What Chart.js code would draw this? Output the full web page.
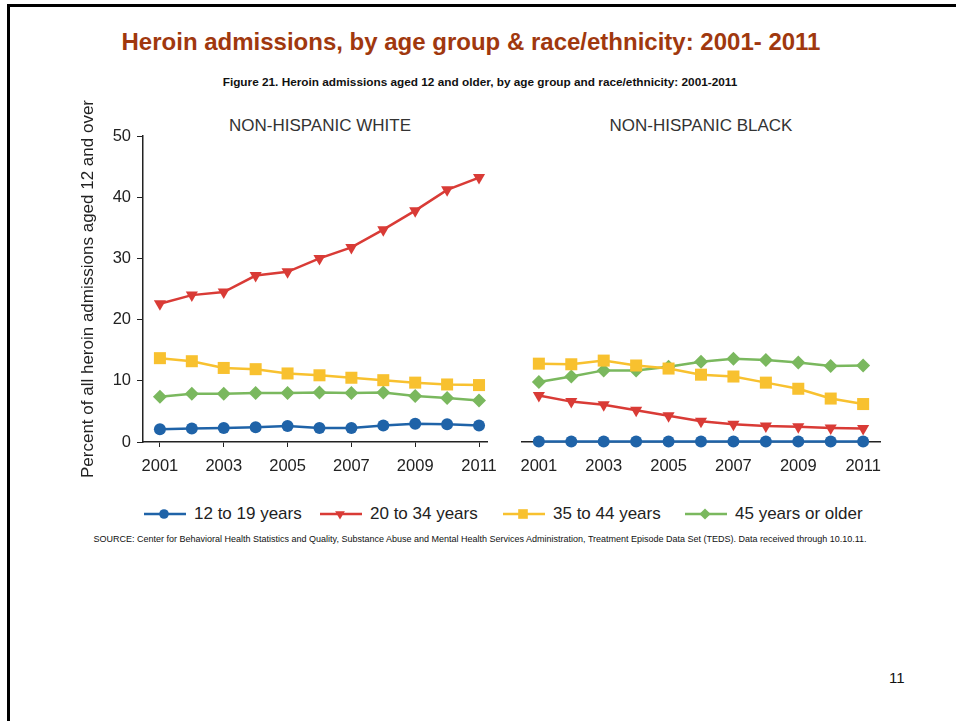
<!DOCTYPE html>
<html>
<head>
<meta charset="utf-8">
<script src="https://cdn.jsdelivr.net/npm/chart.js@4.4.1/dist/chart.umd.min.js"></script>
<style>
  body { margin: 0; background: #fff; font-family: "Liberation Sans", Arial, sans-serif; }
  #page { position: relative; width: 956px; height: 721px; overflow: hidden; }
  .frame { position: absolute; left: 7px; top: 4px; right: -10px; bottom: -10px; border-top: 3px solid #000; border-left: 3px solid #000; }
  .abs { position: absolute; white-space: nowrap; }
  #title { left: 0; width: 942px; top: 28px; text-align: center; font-weight: bold; font-size: 24px; color: #a0380e; }
  #subtitle { left: 0; width: 960px; top: 75px; text-align: center; font-weight: bold; font-size: 11.8px; color: #111; font-family: "Liberation Sans Narrow", "Liberation Sans", Arial, sans-serif; }
  .panelTitle { top: 116px; font-size: 17px; color: #333; text-align: center; width: 300px; }
  #source { left: 0; width: 960px; top: 534px; text-align: center; font-size: 9px; color: #111; font-family: "Liberation Sans Narrow", "Liberation Sans", Arial, sans-serif; }
  #pagenum { left: 889px; top: 669px; font-size: 15px; color: #111; }
  .chartBox { position: absolute; top: 100px; width: 440px; height: 400px; }
  #legend { position: absolute; top: 502px; left: 0; width: 956px; height: 24px; }
  .leg { position: absolute; top: 0; height: 24px; display: flex; align-items: center; font-size: 17px; color: #222; }
  .leg canvas { margin-right: 8px; }
</style>
</head>
<body>
<div id="page">
  <div class="frame"></div>
  <div id="title" class="abs">Heroin admissions, by age group &amp; race/ethnicity: 2001- 2011</div>
  <div id="subtitle" class="abs">Figure 21. Heroin admissions aged 12 and older, by age group and race/ethnicity: 2001-2011</div>
  <div class="abs panelTitle" style="left:170px">NON-HISPANIC WHITE</div>
  <div class="abs panelTitle" style="left:551px">NON-HISPANIC BLACK</div>
  <div class="chartBox" style="left:60px"><canvas id="whiteChart" width="440" height="400"></canvas></div>
  <div class="chartBox" style="left:500px"><canvas id="blackChart" width="440" height="400"></canvas></div>
  <div id="legend"></div>
  <div id="source" class="abs">SOURCE: Center for Behavioral Health Statistics and Quality, Substance Abuse and Mental Health Services Administration, Treatment Episode Data Set (TEDS). Data received through 10.10.11.</div>
  <div id="pagenum" class="abs">11</div>
</div>

<script>
// Años y etiquetas
const years = [2001, 2002, 2003, 2004, 2005, 2006, 2007, 2008, 2009, 2010, 2011];
const yearTicks = [2001, 2003, 2005, 2007, 2009, 2011];
const yTicks = [0, 10, 20, 30, 40, 50];
const ageGroups = ['12 to 19 years', '20 to 34 years', '35 to 44 years', '45 years or older'];

// Non-Hispanic White
const white12to19 = [2.1, 2.2, 2.3, 2.4, 2.6, 2.3, 2.3, 2.7, 3.0, 2.9, 2.7];
const white20to34 = [22.6, 24.0, 24.5, 27.2, 27.8, 30.0, 31.8, 34.7, 37.8, 41.2, 43.2];
const white35to44 = [13.7, 13.2, 12.1, 11.9, 11.2, 10.9, 10.5, 10.1, 9.7, 9.4, 9.3];
const white45plus = [7.4, 7.9, 7.9, 8.0, 8.0, 8.1, 8.0, 8.1, 7.5, 7.2, 6.8];

// Non-Hispanic Black
const black12to19 = [0.1, 0.1, 0.1, 0.1, 0.1, 0.1, 0.1, 0.1, 0.1, 0.1, 0.1];
const black20to34 = [7.6, 6.6, 6.1, 5.2, 4.3, 3.4, 2.9, 2.6, 2.5, 2.3, 2.2];
const black35to44 = [12.8, 12.7, 13.3, 12.5, 12.0, 11.0, 10.7, 9.7, 8.7, 7.1, 6.2];
const black45plus = [9.8, 10.7, 11.7, 11.7, 12.3, 13.1, 13.6, 13.4, 13.0, 12.4, 12.5];

const styles = [
  { color: '#1f63a8', pointStyle: 'circle', radius: 6, rotation: 0 },
  { color: '#d93b36', pointStyle: 'triangle', radius: 7, rotation: 180 },
  { color: '#f8c12f', pointStyle: 'rect', radius: 8.5, rotation: 0 },
  { color: '#7ab85e', pointStyle: 'rectRot', radius: 7, rotation: 0 }
];

const axisColor = '#222';
const tickFont = { family: '"Liberation Sans", Arial, sans-serif', size: 16.5 };

function makeDatasets(series) {
  return series.map((values, i) => ({
    label: ageGroups[i],
    data: values.map((v, j) => ({ x: years[j], y: v })),
    borderColor: styles[i].color,
    backgroundColor: styles[i].color,
    borderWidth: 2.5,
    pointStyle: styles[i].pointStyle,
    pointRadius: styles[i].radius,
    pointRotation: styles[i].rotation,
    pointBorderWidth: 0,
    tension: 0,
    clip: false
  }));
}

function xScale(min, max) {
  return {
    type: 'linear',
    min: min,
    max: max,
    afterBuildTicks: scale => { scale.ticks = yearTicks.map(v => ({ value: v })); },
    afterFit: scale => {
      scale.height = 58;
      // que las etiquetas no empujen el área del gráfico
      scale.paddingLeft = 0;
      scale.paddingRight = 0;
    },
    border: { display: true, color: axisColor, width: 1.5 },
    grid: { drawOnChartArea: false, drawTicks: true, tickLength: 5, color: axisColor, lineWidth: 1 },
    ticks: { color: '#222', font: tickFont, padding: 10, maxRotation: 0, callback: v => String(v) }
  };
}

function renderWhite() {
  new Chart(document.getElementById('whiteChart'), {
    type: 'line',
    data: { datasets: makeDatasets([white12to19, white20to34, white35to44, white45plus]) },
    options: {
      responsive: false,
      animation: false,
      layout: { padding: { left: 0, right: 13, top: 36, bottom: 0 } },
      plugins: { legend: { display: false }, tooltip: { enabled: false } },
      scales: {
        x: xScale(2000.47, 2011.25),
        y: {
          min: 0,
          max: 50,
          afterBuildTicks: scale => { scale.ticks = yTicks.map(v => ({ value: v })); },
          afterFit: scale => { scale.width = 83; },
          border: { display: true, color: axisColor, width: 1.5 },
          grid: { drawOnChartArea: false, drawTicks: true, tickLength: 6, color: axisColor, lineWidth: 1 },
          ticks: { color: '#222', font: tickFont, padding: 6 },
          title: {
            display: true,
            text: 'Percent of all heroin admissions aged 12 and over',
            color: '#222',
            font: { family: '"Liberation Sans", Arial, sans-serif', size: 17 },
            padding: { top: 18, bottom: 0 }
          }
        }
      }
    }
  });
}

function renderBlack() {
  new Chart(document.getElementById('blackChart'), {
    type: 'line',
    data: { datasets: makeDatasets([black12to19, black20to34, black35to44, black45plus]) },
    options: {
      responsive: false,
      animation: false,
      layout: { padding: { left: 22, right: 60, top: 36, bottom: 0 } },
      plugins: { legend: { display: false }, tooltip: { enabled: false } },
      scales: {
        x: xScale(2000.48, 2011.52),
        y: { display: false, min: 0, max: 50 }
      }
    }
  });
}

// Leyenda: línea + marcador, como en la figura original
function drawMarker(ctx, st, x, y) {
  ctx.fillStyle = st.color;
  ctx.beginPath();
  const r = st.radius;
  if (st.pointStyle === 'circle') {
    ctx.arc(x, y, r, 0, Math.PI * 2);
  } else if (st.pointStyle === 'triangle') {
    ctx.moveTo(x - r * 0.87, y - r * 0.5);
    ctx.lineTo(x + r * 0.87, y - r * 0.5);
    ctx.lineTo(x, y + r);
  } else if (st.pointStyle === 'rect') {
    const s = r * Math.SQRT1_2;
    ctx.rect(x - s, y - s, s * 2, s * 2);
  } else {
    ctx.moveTo(x - r, y);
    ctx.lineTo(x, y - r);
    ctx.lineTo(x + r, y);
    ctx.lineTo(x, y + r);
  }
  ctx.closePath();
  ctx.fill();
}

function renderLegend() {
  const lefts = [144, 320, 503, 685];
  const legend = document.getElementById('legend');
  ageGroups.forEach((name, i) => {
    const item = document.createElement('div');
    item.className = 'leg';
    item.style.left = lefts[i] + 'px';
    const c = document.createElement('canvas');
    c.width = 42;
    c.height = 20;
    const ctx = c.getContext('2d');
    ctx.strokeStyle = styles[i].color;
    ctx.lineWidth = 2.5;
    ctx.beginPath();
    ctx.moveTo(0, 10);
    ctx.lineTo(42, 10);
    ctx.stroke();
    drawMarker(ctx, Object.assign({}, styles[i], { radius: styles[i].radius * 0.8 }), 20, 10);
    item.appendChild(c);
    const span = document.createElement('span');
    span.textContent = name;
    item.appendChild(span);
    legend.appendChild(item);
  });
}

renderWhite();
renderBlack();
renderLegend();
</script>
</body>
</html>
